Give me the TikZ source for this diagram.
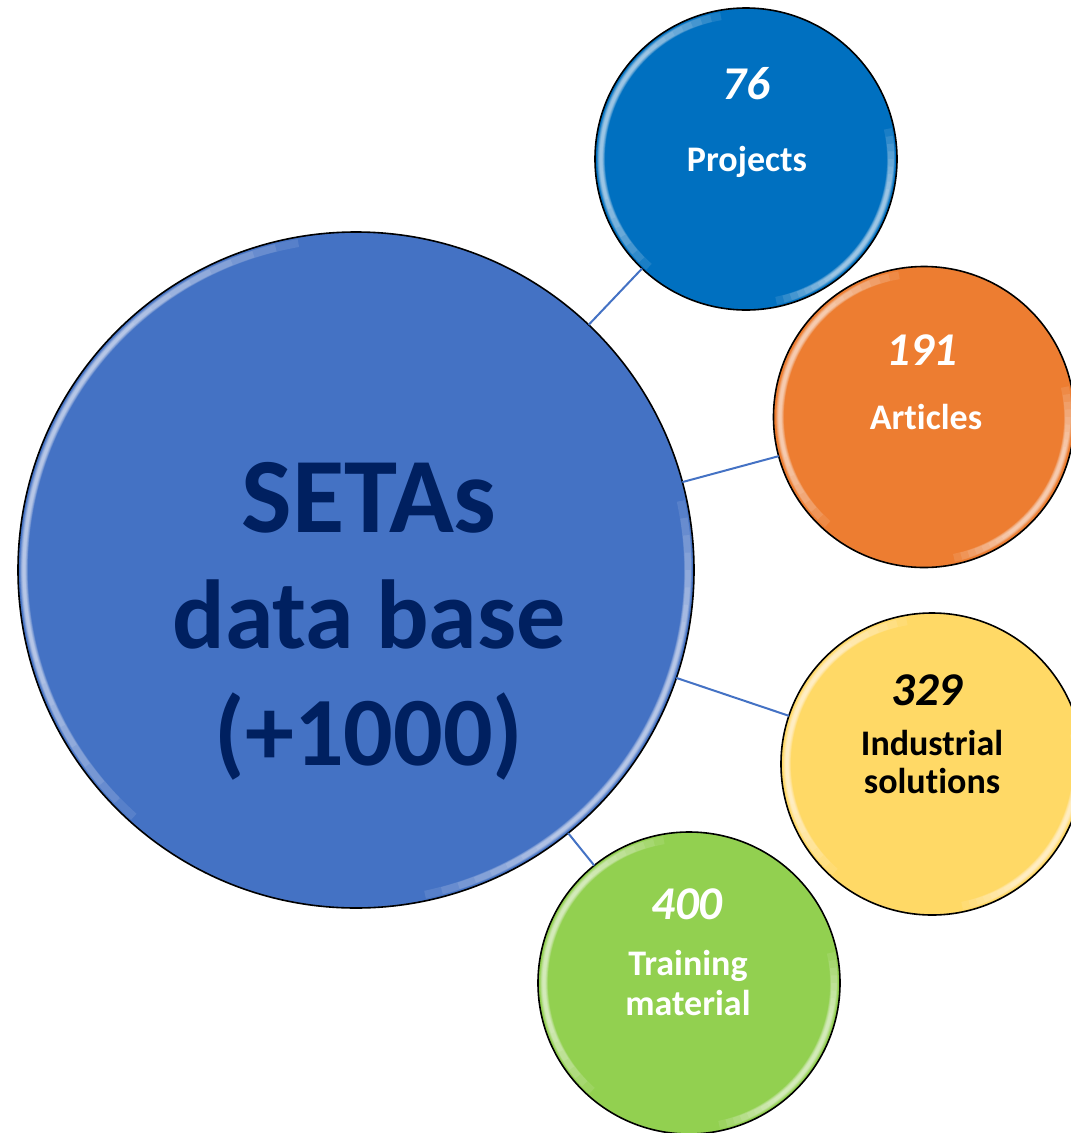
\documentclass[tikz,border=0pt]{standalone}
\usepackage{fontspec}
\setmainfont{Carlito}[Ligatures={NoCommon}]
\definecolor{bigblue}{HTML}{4472C4}
\definecolor{navy}{HTML}{002060}
\definecolor{projblue}{HTML}{0070C0}
\definecolor{artorange}{HTML}{ED7D31}
\definecolor{indyellow}{HTML}{FFD966}
\definecolor{traingreen}{HTML}{92D050}
\tikzset{
  bubble/.style={circle, draw=black, line width=1.6pt, inner sep=0pt, outer sep=0pt},
  link/.style={draw=bigblue, line width=2pt},
  glowarc/.style={draw=white, opacity=0.1},
  bigtxt/.style={anchor=base, text=navy, font=\bfseries\fontsize{107}{117}\selectfont, inner sep=0pt},
  bigtxtb/.style={anchor=base, text=navy, font=\bfseries\fontsize{98}{117}\selectfont, inner sep=0pt},
  numtxt/.style={anchor=base, font=\bfseries\itshape\fontsize{47}{56}\selectfont, inner sep=0pt},
  labtxt/.style={anchor=base, font=\bfseries\fontsize{36}{40}\selectfont, inner sep=0pt}
}
\newcommand\glint[2]{%
  \foreach \k in {0,...,8}{%
    \pgfmathsetmacro\wd{8-0.7*\k}%
    \pgfmathsetmacro\sa{100+4*\k}%
    \pgfmathsetmacro\ea{228-4*\k}%
    \pgfmathsetmacro\sb{-78+3*\k}%
    \pgfmathsetmacro\eb{12-3*\k}%
    \draw[glowarc, line width=\wd pt] (#1) ++(\sa:#2) arc[start angle=\sa, end angle=\ea, radius=#2];
    \draw[glowarc, line width=\wd pt] (#1) ++(\sb:#2) arc[start angle=\sb, end angle=\eb, radius=#2];
  }%
}
\begin{document}
\begin{tikzpicture}[x=1pt, y=1pt]
\useasboundingbox (0,0) rectangle (1071,-1133);
% circles
\node[bubble, fill=bigblue, minimum size=676pt] (big) at (356,-570) {};
\node[bubble, fill=projblue, minimum size=302pt] (proj) at (746,-159) {};
\node[bubble, fill=artorange, minimum size=301pt] (art) at (924,-417) {};
\node[bubble, fill=indyellow, minimum size=302pt] (ind) at (932,-764) {};
\node[bubble, fill=traingreen, minimum size=302pt] (train) at (689,-983) {};
% connectors
\draw[link] (big) -- (proj);
\draw[link] (big) -- (art);
\draw[link] (big) -- (ind);
\draw[link] (big) -- (train);
% glints
\glint{big}{332}
\glint{proj}{145}
\glint{art}{144}
\glint{ind}{145}
\glint{train}{145}
% big text
\node[bigtxt] (t1) at (369,-532) {SETAs};
\node[bigtxtb] (t2) at (369,-648) {data base};
\node[bigtxtb] (t3) at (369,-765) {(+1000)};
% projects
\node[numtxt, text=white] (pn) at (746,-99) {76};
\node[labtxt, text=white] (pl) at (747,-171) {Projects};
% articles
\node[numtxt, text=white] (an) at (922,-365) {191};
\node[labtxt, text=white] (al) at (926,-429) {Articles};
% industrial
\node[numtxt, text=black] (inn) at (927,-705) {329};
\node[labtxt, text=black] (il1) at (932,-755) {Industrial};
\node[labtxt, text=black] (il2) at (932,-793) {solutions};
% training
\node[numtxt, text=white] (tn) at (687,-919) {400};
\node[labtxt, text=white] (tl1) at (688,-975) {Training};
\node[labtxt, text=white] (tl2) at (688,-1015) {material};
\end{tikzpicture}
\end{document}
